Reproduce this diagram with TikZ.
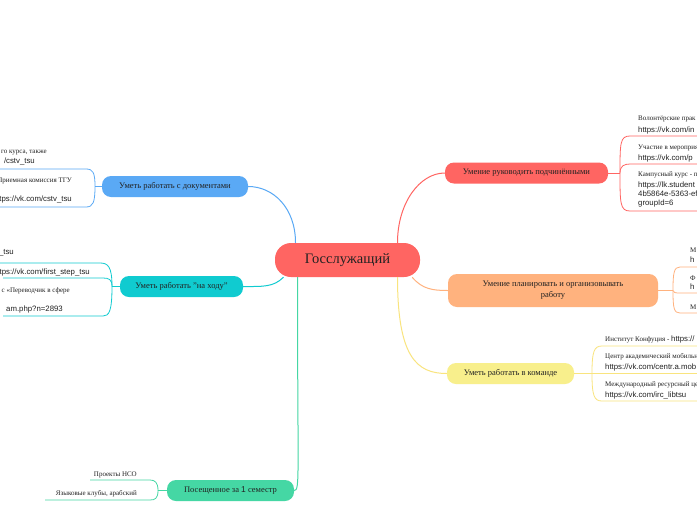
\documentclass[tikz,border=0pt]{standalone}
\usepackage{fontspec}
\setmainfont{Liberation Serif}
\newfontfamily\linkfont{Liberation Sans}
\usepackage{xcolor}
\usepackage{tikz}
\usetikzlibrary{positioning}
\definecolor{mmred}{HTML}{FF6562}
\definecolor{mmorange}{HTML}{FFB27E}
\definecolor{mmyellow}{HTML}{F8EF8C}
\definecolor{mmblue}{HTML}{5AA9F5}
\definecolor{mmcyan}{HTML}{10CBD0}
\definecolor{mmgreen}{HTML}{45D7A4}
\definecolor{ink}{HTML}{222222}

\begin{document}
\begin{tikzpicture}[
  x=1pt,
  y=-1pt,
  root/.style={rounded corners=16pt, fill=mmred, inner sep=0pt, minimum width=145pt, minimum height=34pt,
    text=ink, font=\fontsize{14.5}{16}\selectfont},
  topic/.style={rounded corners=9pt, inner sep=0pt, minimum height=21pt, align=center,
    text=ink, font=\fontsize{8.5}{11}\selectfont},
  note/.style={inner sep=0pt, text=ink, font=\fontsize{7}{8}\selectfont},
  link/.style={inner sep=0pt, text=ink, font=\linkfont\fontsize{7.8}{8}\selectfont},
  wire/.style={line width=1pt},
  leafwire/.style={line width=0.8pt}
]
\useasboundingbox (0,0) rectangle (697,520);
\fill[white] (0,0) rectangle (697,520);
\clip (0,0) rectangle (697,520);

% topics
\node[root] (gs) at (347.5,260) {Госслужащий};
\node[topic, fill=mmred, minimum width=163pt] (lead) at (526.5,173) {Умение руководить подчинёнными};
\node[topic, fill=mmorange, minimum width=210pt, minimum height=33pt] (plan) at (553,290.5) {Умение планировать и организовывать\\работу};
\node[topic, fill=mmyellow, minimum width=127pt] (team) at (510.5,373.5) {Уметь работать в команде};
\node[topic, fill=mmblue, minimum width=146pt] (docs) at (175,186.5) {Уметь работать с документами};
\node[topic, fill=mmcyan, minimum width=123pt] (move) at (181.5,286.5) {Уметь работать "на ходу"};
\node[topic, fill=mmgreen, minimum width=127pt] (visit) at (230.5,490.5) {Посещенное за {\linkfont 1} семестр};

\draw[wire, mmred] ([xshift=50pt]gs.north) .. controls +(0,-40) and +(-25,0) .. (lead.west);
\draw[wire, mmblue] ([xshift=-52pt]gs.north) .. controls +(0,-35) and +(25,0) .. (docs.east);
\draw[wire, mmcyan] ([xshift=-64pt]gs.south) .. controls +(-10,10) and +(20,0) .. (move.east);
\draw[wire, mmgreen] ([xshift=-50pt]gs.south) .. controls +(0,200) and +(6,0) .. (visit.east);
\draw[wire, mmorange] ([xshift=-8pt]gs.south east) .. controls +(10,12) and +(-15,0) .. (plan.west);
\draw[wire, mmyellow!90!orange] ([xshift=50pt]gs.south) .. controls +(0,80) and +(-30,0) .. (team.west);

% leaves of lead
\coordinate (leadfork) at (620,173);
\coordinate (lead1) at (630,136);
\coordinate (lead2) at (630,164);
\coordinate (lead3) at (630,211);
\draw[wire, mmred] (lead.east) -- (leadfork);
\draw[leafwire, mmred] (leadfork) .. controls +(0,-30) and +(-10,0) .. (lead1) -- ++(100,0);
\draw[leafwire, mmred] (leadfork) .. controls +(0,-7) and +(-6,0) .. (lead2) -- ++(100,0);
\draw[leafwire, mmred] (leadfork) .. controls +(0,30) and +(-10,0) .. (lead3) -- ++(100,0);
\node[note, anchor=west] (lead1a) at (638,119) {Волонтёрские прак};
\node[link, anchor=west] (lead1b) at (638,130) {https://vk.com/in};
\node[note, anchor=west] (lead2a) at (638,148) {Участие в мероприя};
\node[link, anchor=west] (lead2b) at (638,158) {https://vk.com/p};
\node[note, anchor=west] (lead3a) at (638,175) {Кампусный курс - п};
\node[link, anchor=west] (lead3b) at (638,185) {https://lk.student};
\node[link, anchor=west] (lead3c) at (638,194) {4b5864e-5363-ef};
\node[link, anchor=west] (lead3d) at (638,203) {groupId=6};

% leaves of plan
\coordinate (planfork) at (673,290.5);
\coordinate (plan1) at (680,267);
\coordinate (plan2) at (680,293);
\coordinate (plan3) at (680,313);
\draw[wire, mmorange] (plan.east) -- (planfork);
\draw[leafwire, mmorange] (planfork) .. controls +(0,-18) and +(-6,0) .. (plan1) -- ++(30,0);
\draw[leafwire, mmorange] (planfork) .. controls +(0,2) and +(-5,0) .. (plan2) -- ++(30,0);
\draw[leafwire, mmorange] (planfork) .. controls +(0,18) and +(-6,0) .. (plan3) -- ++(30,0);
\node[note, anchor=west] (plan1a) at (690,250) {М};
\node[link, anchor=west] (plan1b) at (690,260) {h};
\node[note, anchor=west] (plan2a) at (690,278) {Ф};
\node[link, anchor=west] (plan2b) at (690,287) {h};
\node[note, anchor=west] (plan3a) at (690,307) {М};

% leaves of team
\coordinate (teamfork) at (592,373.5);
\coordinate (team1) at (602,346);
\coordinate (team2) at (602,373.5);
\coordinate (team3) at (602,401);
\draw[wire, mmyellow!90!orange] (team.east) -- (teamfork);
\draw[leafwire, mmyellow!90!orange] (teamfork) .. controls +(0,-22) and +(-8,0) .. (team1) -- ++(100,0);
\draw[leafwire, mmyellow!90!orange] (teamfork) -- (team2) -- ++(100,0);
\draw[leafwire, mmyellow!90!orange] (teamfork) .. controls +(0,22) and +(-8,0) .. (team3) -- ++(100,0);
\node[note, anchor=west] (team1a) at (605,339) {Институт Конфуция - {\linkfont\fontsize{7.8}{8}\selectfont https://}};
\node[note, anchor=west] (team2a) at (605,357) {Центр академический мобильн};
\node[link, anchor=west] (team2b) at (605,367) {https://vk.com/centr.a.mob};
\node[note, anchor=west] (team3a) at (605,385) {Международный ресурсный це};
\node[link, anchor=west] (team3b) at (605,395) {https://vk.com/irc\_libtsu};

% leaves of docs
\coordinate (docsfork) at (95,186.5);
\coordinate (docs1) at (86,169);
\coordinate (docs2) at (86,207);
\draw[wire, mmblue] (docs.west) -- (docsfork);
\draw[leafwire, mmblue] (docsfork) .. controls +(0,-14) and +(7,0) .. (docs1) -- ++(-100,0);
\draw[leafwire, mmblue] (docsfork) .. controls +(0,16) and +(7,0) .. (docs2) -- ++(-100,0);
\node[note, anchor=east] (docs1a) at (47,153) {го курса, также};
\node[link, anchor=east] (docs1b) at (35,161) {/cstv\_tsu};
\node[note, anchor=east] (docs2a) at (72,181) {Приемная комиссия ТГУ};
\node[link, anchor=east] (docs2b) at (72,199) {https://vk.com/cstv\_tsu};

% leaves of move
\coordinate (movefork) at (112,286.5);
\coordinate (move1) at (100,263);
\coordinate (move2) at (103,278);
\coordinate (move3) at (103,316);
\draw[wire, mmcyan] (move.west) -- (movefork);
\draw[leafwire, mmcyan] (movefork) .. controls +(0,-20) and +(8,0) .. (move1) -- ++(-100,0);
\draw[leafwire, mmcyan] (movefork) .. controls +(0,-7) and +(6,0) .. (move2) -- ++(-100,0);
\draw[leafwire, mmcyan] (movefork) .. controls +(0,25) and +(6,0) .. (move3) -- ++(-100,0);
\node[link, anchor=east] (move1a) at (14,253) {\_tsu};
\node[link, anchor=east] (move2a) at (90,272) {https://vk.com/first\_step\_tsu};
\node[note, anchor=east] (move3a) at (70,291) {с «Переводчик в сфере};
\node[link, anchor=east] (move3b) at (63,309) {am.php?n=2893};

% leaves of visit
\coordinate (visitfork) at (158,490.5);
\coordinate (visit1) at (150,480);
\coordinate (visit2) at (150,500);
\draw[wire, mmgreen] (visit.west) -- (visitfork);
\draw[leafwire, mmgreen] (visitfork) .. controls +(0,-8) and +(5,0) .. (visit1) -- ++(-60,0);
\draw[leafwire, mmgreen] (visitfork) .. controls +(0,8) and +(5,0) .. (visit2) -- ++(-105,0);
\node[note, anchor=east] (visit1a) at (137,475) {Проекты НСО};
\node[note, anchor=east] (visit2a) at (137,494) {Языковые клубы, арабский};
\end{tikzpicture}
\end{document}
